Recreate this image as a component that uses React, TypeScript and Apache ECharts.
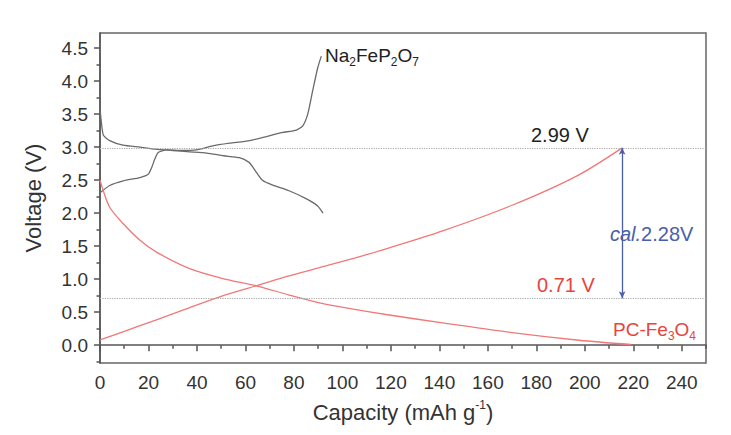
import React, { useEffect, useRef } from "react";
import * as echarts from "echarts";

// Na2FeP2O7 (black) curves
const naDisCap = [0, 0.5, 1.4, 4, 9.5, 16.5, 23, 30, 37, 44, 51, 57.5, 61.5, 63, 64.5, 67, 71, 78, 85, 89.8, 92];
const naDisV = [3.58, 3.4, 3.18, 3.1, 3.03, 3.0, 2.97, 2.95, 2.93, 2.91, 2.87, 2.84, 2.77, 2.7, 2.62, 2.5, 2.43, 2.34, 2.22, 2.11, 2.0];
const naChgCap = [0, 4, 9.6, 16.5, 19.9, 21.3, 22.6, 24, 27.4, 34, 39.8, 46.5, 53.5, 61.7, 68.6, 75, 81, 83.6, 85.7, 87.7, 89.8, 91.3];
const naChgV = [2.31, 2.42, 2.49, 2.54, 2.59, 2.69, 2.82, 2.92, 2.96, 2.95, 2.96, 3.02, 3.06, 3.1, 3.16, 3.22, 3.26, 3.32, 3.5, 3.85, 4.2, 4.38];

// PC-Fe3O4 (red) curves
const pcDisCap = [0, 1, 4, 9.6, 16.5, 23.3, 37, 50.7, 64.5, 78, 92, 105.6, 118, 142.7, 170, 197.5, 219];
const pcDisV = [2.5, 2.38, 2.09, 1.84, 1.59, 1.41, 1.16, 1.01, 0.9, 0.76, 0.63, 0.54, 0.465, 0.33, 0.19, 0.075, 0.01];
const pcChgCap = [0, 10, 23, 37, 50, 64.5, 78, 92, 105, 118, 142, 170, 197, 215.4];
const pcChgV = [0.08, 0.21, 0.38, 0.57, 0.74, 0.9, 1.05, 1.19, 1.32, 1.46, 1.74, 2.12, 2.57, 2.99];

// reference levels
const refHigh = 2.99;
const refLow = 0.71;
const arrowCap = 215.4;

// ticks
const xMajor = [0, 20, 40, 60, 80, 100, 120, 140, 160, 180, 200, 220, 240];
const xMinor = [10, 30, 50, 70, 90, 110, 130, 150, 170, 190, 210, 230, 250];
const yMajor = [0, 0.5, 1, 1.5, 2, 2.5, 3, 3.5, 4, 4.5];
const yMinor = [-0.25, 0.25, 0.75, 1.25, 1.75, 2.25, 2.75, 3.25, 3.75, 4.25];

const FONT = "'Liberation Sans', Arial, Helvetica, sans-serif";
const AXIS_COLOR = "#555";
const BLACK_LINE = "#6a6a6a";
const RED_LINE = "#f07878";
const RED_TEXT = "#e8443e";
const BLUE = "#4a5eaa";

const zip = (a: number[], b: number[]) => a.map((v, i) => [v, b[i]]);

export default function App() {
  const ref = useRef<HTMLDivElement>(null);
  useEffect(() => {
    document.body.style.margin = "0";
    const chart = echarts.init(ref.current!, null, { renderer: "svg" });
    const sub = { fontSize: 12, fontFamily: FONT, padding: [10, 0, 0, 0], verticalAlign: "top" };
    chart.setOption({
      animation: false,
      backgroundColor: "#fff",
      grid: { left: 100, right: 25, top: 33, bottom: 72, show: true, borderColor: "#666", borderWidth: 1.5, containLabel: false, outerBoundsMode: "none" },
      xAxis: [
        {
          type: "value", min: 0, max: 250, position: "bottom",
          axisLine: { show: true, lineStyle: { color: AXIS_COLOR, width: 1.5 } },
          axisTick: { show: true, inside: false, length: 6, customValues: xMajor, lineStyle: { color: AXIS_COLOR, width: 1.5 } },
          axisLabel: { customValues: xMajor, fontSize: 19, color: "#333", fontFamily: FONT, margin: 10 },
          splitLine: { show: false },
          name: "{a|Capacity (mAh g}{b|-1}{a|)}",
          nameLocation: "middle", nameGap: 36,
          nameTextStyle: {
            rich: {
              a: { fontSize: 22, color: "#333", fontFamily: FONT, verticalAlign: "top", padding: [2, 0, 0, 0] },
              b: { fontSize: 12, color: "#333", fontFamily: FONT, verticalAlign: "top", padding: [0, 0, 0, 0] },
            },
          },
        },
        {
          type: "value", min: 0, max: 250, position: "bottom", offset: 0,
          axisLine: { show: false },
          axisTick: { show: true, inside: false, length: 3.5, customValues: xMinor, lineStyle: { color: AXIS_COLOR, width: 1.5 } },
          axisLabel: { show: false },
          splitLine: { show: false },
        },
      ],
      yAxis: [
        {
          type: "value", min: -0.27, max: 4.73, position: "left",
          axisLine: { show: true, lineStyle: { color: AXIS_COLOR, width: 1.5 } },
          axisTick: { show: true, inside: false, length: 6, customValues: yMajor, lineStyle: { color: AXIS_COLOR, width: 1.5 } },
          axisLabel: { customValues: yMajor, fontSize: 19, color: "#333", fontFamily: FONT, margin: 12, formatter: (v: number) => v.toFixed(1) },
          splitLine: { show: false },
          name: "Voltage (V)",
          nameLocation: "middle", nameGap: 56,
          nameTextStyle: { fontSize: 22, color: "#333", fontFamily: FONT },
        },
        {
          type: "value", min: -0.27, max: 4.73, position: "left", offset: 0,
          axisLine: { show: false },
          axisTick: { show: true, inside: false, length: 3.5, customValues: yMinor, lineStyle: { color: AXIS_COLOR, width: 1.5 } },
          axisLabel: { show: false },
          splitLine: { show: false },
        },
      ],
      series: [
        {
          type: "line", data: zip(naDisCap, naDisV), showSymbol: false, smooth: 0.2,
          lineStyle: { color: BLACK_LINE, width: 1.3 },
          markLine: {
            silent: true, symbol: "none", label: { show: false },
            lineStyle: { type: "dotted", color: "#a8a8a8", width: 1.2 },
            data: [{ yAxis: refHigh }, { yAxis: refLow }],
          },
        },
        { type: "line", data: zip(naChgCap, naChgV), showSymbol: false, smooth: 0.2, lineStyle: { color: BLACK_LINE, width: 1.3 } },
        { type: "line", data: zip(pcDisCap, pcDisV), showSymbol: false, smooth: 0.3, lineStyle: { color: RED_LINE, width: 1.3 } },
        {
          type: "line", data: zip(pcChgCap, pcChgV), showSymbol: false, smooth: 0.3, lineStyle: { color: RED_LINE, width: 1.3 },
          markLine: {
            silent: true, symbol: ["arrow", "arrow"], symbolSize: [5, 7], label: { show: false },
            lineStyle: { type: "solid", color: BLUE, width: 1.3 },
            data: [[{ coord: [arrowCap, refHigh] }, { coord: [arrowCap, refLow] }]],
          },
        },
      ],
      graphic: [
        {
          type: "text", left: 325, top: 46,
          style: {
            text: "{a|Na}{s|2}{a|FeP}{s|2}{a|O}{s|7}",
            rich: { a: { fontSize: 19, fontFamily: FONT, fill: "#222", verticalAlign: "top" }, s: { ...sub, fill: "#222" } },
          },
        },
        { type: "text", left: 531, top: 125, style: { text: "2.99 V", fontSize: 20, fontFamily: FONT, fill: "#222" } },
        {
          type: "text", left: 610, top: 224,
          style: {
            text: "{i|cal.}{a|2.28V}",
            rich: {
              i: { fontSize: 20, fontStyle: "italic", fontFamily: FONT, fill: BLUE },
              a: { fontSize: 20, fontFamily: FONT, fill: BLUE },
            },
          },
        },
        { type: "text", left: 537, top: 275, style: { text: "0.71 V", fontSize: 20, fontFamily: FONT, fill: RED_TEXT } },
        {
          type: "text", left: 613, top: 320,
          style: {
            text: "{a|PC-Fe}{s|3}{a|O}{s|4}",
            rich: { a: { fontSize: 19, fontFamily: FONT, fill: RED_TEXT, verticalAlign: "top" }, s: { ...sub, fill: RED_TEXT } },
          },
        },
      ],
    });
    return () => chart.dispose();
  }, []);
  return <div ref={ref} style={{ width: 731, height: 435 }} />;
}
